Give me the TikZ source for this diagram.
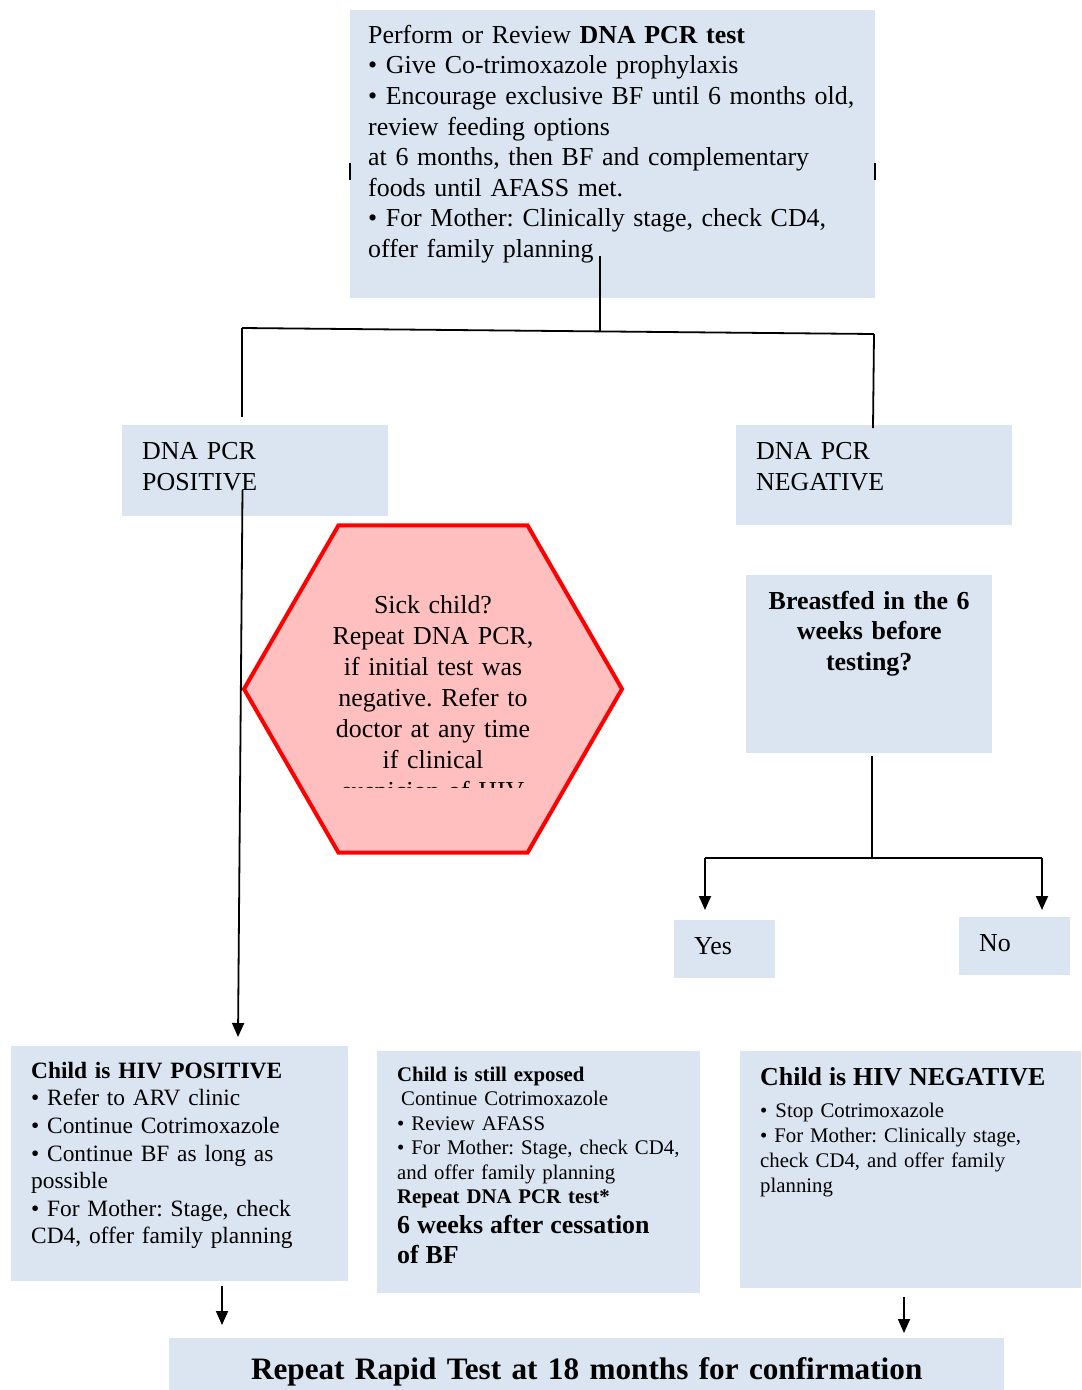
\documentclass[tikz,border=0pt]{standalone}
\usepackage{fontspec}
\setmainfont{Liberation Serif}
\usetikzlibrary{arrows.meta, shapes.geometric}
\definecolor{panelblue}{HTML}{DBE5F1}
\definecolor{alertred}{HTML}{FF0000}
\definecolor{alertpink}{HTML}{FFBFBF}
\newcommand{\fsz}[2]{\fontsize{#1}{#2}\selectfont}
\frenchspacing

\begin{document}
\begin{tikzpicture}[
  x=1pt, y=-1pt,
  every node/.style={inner sep=0pt},
  panel/.style={fill=panelblue, anchor=north west, align=left,
                inner xsep=20pt, inner ysep=0pt},
  link/.style={line width=1.8pt},
  arrow/.style={link, -{Triangle[length=14pt, width=12pt]}},
  hexa/.style={regular polygon, regular polygon sides=6, draw=alertred,
               line width=4pt, fill=alertpink, minimum size=378pt},
]
  \useasboundingbox (0,0) rectangle (1082,1390);

  % Top box
  \node[panel, inner xsep=18pt, text width=489pt, text height=33pt, text depth=255pt,
        font=\fsz{25.9}{30.6}] (top) at (350,10)
    {Perform or Review \textbf{DNA PCR test}\\
     \textbullet{} Give Co-trimoxazole prophylaxis\\
     \textbullet{} Encourage exclusive BF until 6 months old,\\
     review feeding options\\
     at 6 months, then BF and complementary\\
     foods until AFASS met.\\
     \textbullet{} For Mother: Clinically stage, check CD4,\\
     offer family planning};
  \draw[line width=1.5pt] (350,163) -- (350,180);
  \draw[line width=1.5pt] (875,163) -- (875,180);

  % Test results
  \node[panel, text width=226pt, text height=34pt, text depth=57pt,
        font=\fsz{25.9}{31}] (pos) at (122,425) {DNA PCR\\POSITIVE};
  \node[panel, text width=236pt, text height=34pt, text depth=66pt,
        font=\fsz{25.9}{31}] (neg) at (736,425) {DNA PCR\\NEGATIVE};

  % Sick child
  \node[hexa] (sick) at (433,689) {};
  \begin{scope}
    \clip (240,500) rectangle (630,787);
    \node[align=center, text width=300pt, font=\fsz{25.9}{31.1}, anchor=base]
      (sicktext) at (433,613)
      {Sick child?\\ Repeat DNA PCR,\\ if initial test was\\ negative. Refer to\\
       doctor at any time\\ if clinical\\ suspicion of HIV};
  \end{scope}

  % Breastfeeding question
  \node[panel, align=center, inner xsep=10pt, text width=226pt, text height=34pt,
        text depth=144pt, font=\fsz{25.9}{30.5}\bfseries] (bf) at (746,575)
    {Breastfed in the 6\\weeks before\\testing?};
  \node[panel, text width=61pt, text height=34pt, text depth=24pt,
        font=\fsz{25.9}{31}] (yes) at (674,920) {Yes};
  \node[panel, text width=71pt, text height=34pt, text depth=24pt,
        font=\fsz{25.9}{31}] (no) at (959,917) {No};

  % Outcomes
  \node[panel, text width=297pt, text height=32pt, text depth=203pt,
        font=\fsz{23.4}{27.6}] (hivpos) at (11,1046)
    {\textbf{Child is HIV POSITIVE}\\
     \textbullet{} Refer to ARV clinic\\
     \textbullet{} Continue Cotrimoxazole\\
     \textbullet{} Continue BF as long as\\
     possible\\
     \textbullet{} For Mother: Stage, check\\
     CD4, offer family planning};
  \node[panel, text width=283pt, text height=30pt, text depth=212pt,
        font=\fsz{20.8}{24.5}] (exposed) at (377,1051)
    {\textbf{Child is still exposed}\\
     \hspace*{4pt}Continue Cotrimoxazole\\
     \textbullet{} Review AFASS\\
     \textbullet{} For Mother: Stage, check CD4,\\
     and offer family planning\\
     \textbf{Repeat DNA PCR test*}\par
     \fsz{25.9}{30}\bfseries 6 weeks after cessation\par of BF\par};
  \node[panel, text width=301pt, text height=34pt, text depth=203pt,
        font=\fsz{20.8}{25}] (hivneg) at (740,1051)
    {{\fsz{25.9}{30}\bfseries Child is HIV NEGATIVE\par}\vspace{7pt}
     \textbullet\hspace{8pt}Stop Cotrimoxazole\\
     \textbullet{} For Mother: Clinically stage,\\
     check CD4, and offer family\\
     planning};

  \node[panel, align=center, text width=795pt, text height=41pt, text depth=11pt,
        font=\fsz{31.2}{36}\bfseries] (rapid) at (169,1338)
    {Repeat Rapid Test at 18 months for confirmation};

  % Branch points
  \coordinate (stem) at (600,256);
  \coordinate (forkM) at (600,331);
  \coordinate (forkL) at (242,328);
  \coordinate (forkR) at (874,334);
  \coordinate (dropL) at (242,417);
  \coordinate (dropR) at (873,428);
  \coordinate (posout) at (242.5,490);
  \coordinate (posend) at (238,1037);
  \coordinate (bfout) at (872,756);
  \coordinate (forkYN) at (872,858);
  \coordinate (forkY) at (705,858);
  \coordinate (forkN) at (1042,858);
  \coordinate (yesend) at (705,910);
  \coordinate (noend) at (1042,910);
  \coordinate (hivposout) at (222,1286);
  \coordinate (hivposend) at (222,1325);
  \coordinate (hivnegout) at (904,1297);
  \coordinate (hivnegend) at (904,1333);

  % Connectors
  \draw[link] (stem) -- (forkM);
  \draw[link] (forkL) -- (forkR);
  \draw[link] (forkL) -- (dropL);
  \draw[link] (forkR) -- (dropR);
  \draw[arrow] (posout) -- (posend);
  \draw[link] (bfout) -- (forkYN);
  \draw[link] (forkY) -- (forkN);
  \draw[arrow] (forkY) -- (yesend);
  \draw[arrow] (forkN) -- (noend);
  \draw[arrow] (hivposout) -- (hivposend);
  \draw[arrow] (hivnegout) -- (hivnegend);
\end{tikzpicture}
\end{document}
